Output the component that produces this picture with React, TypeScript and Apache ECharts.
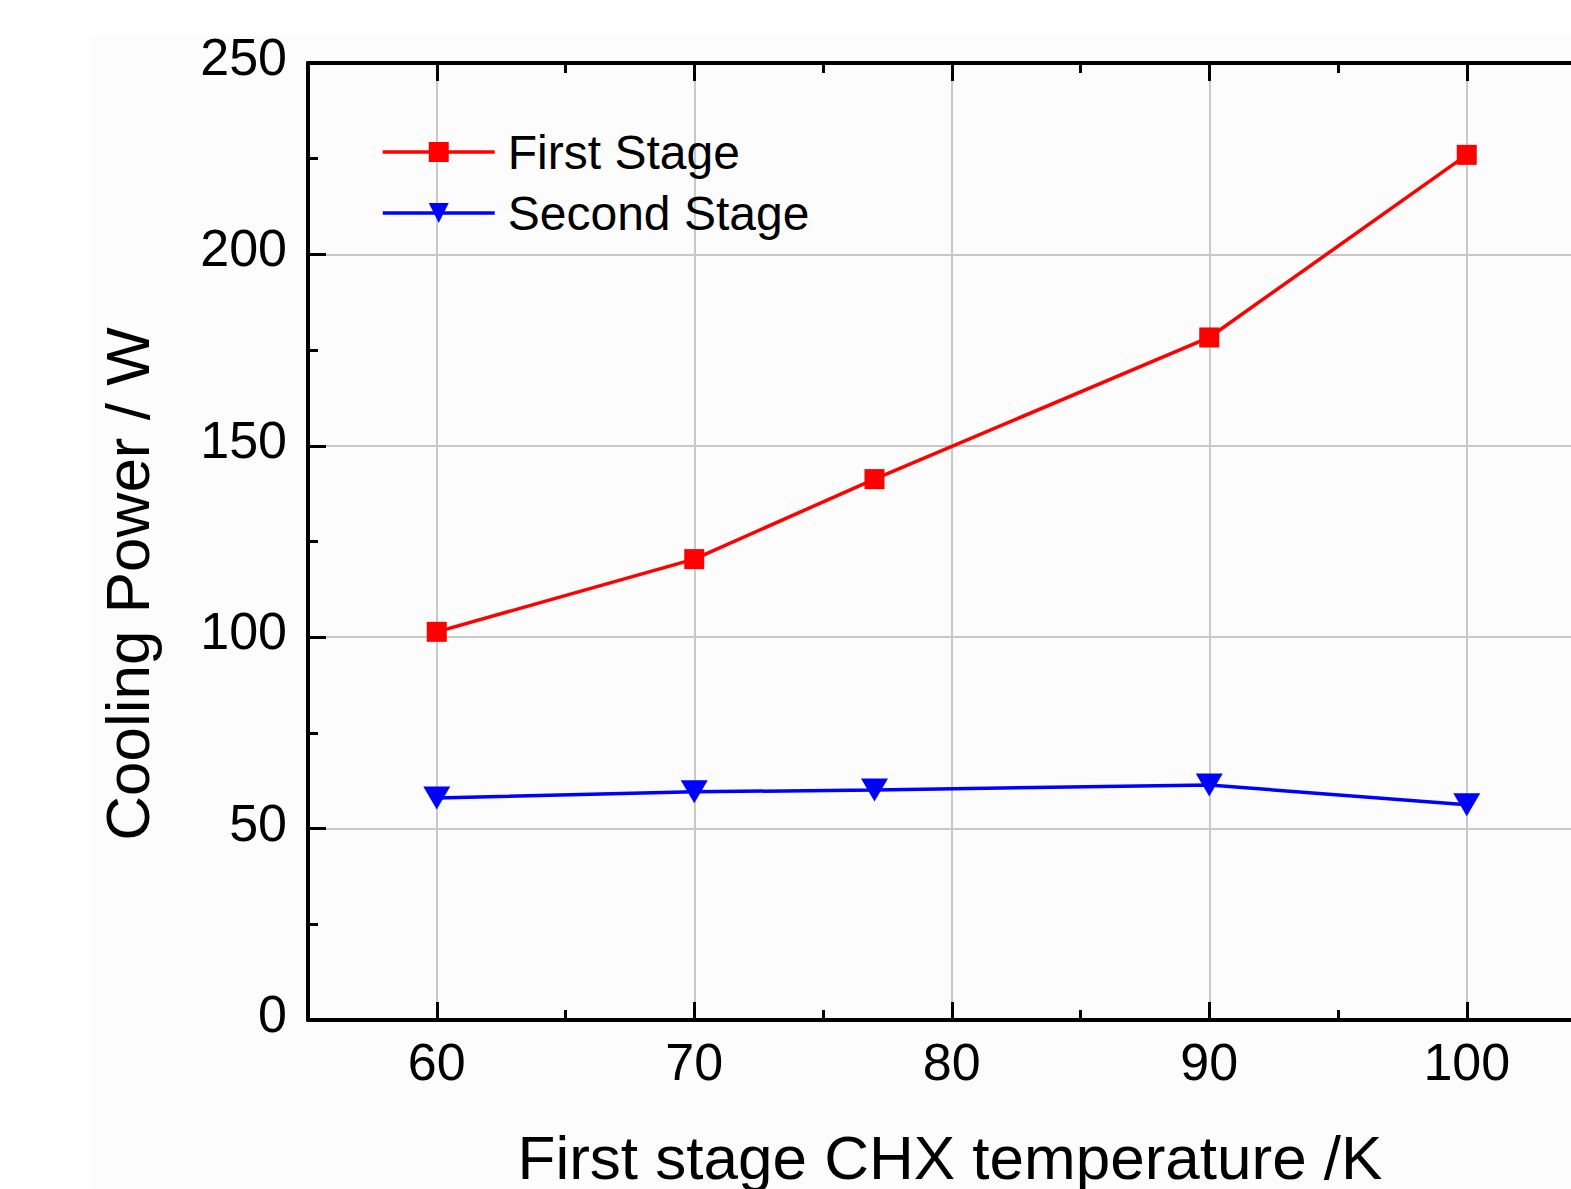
import React, { useEffect, useRef } from 'react';
import * as echarts from 'echarts';

// ---- data ----
const temperatures = [60, 70, 77, 90, 100];
const firstStage = [101.4, 120.4, 141.3, 178.3, 226.0];
const secondStage = [58.0, 59.6, 60.1, 61.4, 56.2];
const seriesNames = ['First Stage', 'Second Stage'];
const xAxisTitle = 'First stage CHX temperature /K';
const yAxisTitle = 'Cooling Power / W';
const xRange = [55, 105];
const yRange = [0, 250];

const FONT = 'Liberation Sans, Arial, Helvetica, sans-serif';

export default function App() {
  const ref = useRef<HTMLDivElement>(null);

  useEffect(() => {
    if (!ref.current) return;
    const chart = echarts.init(ref.current, null, { renderer: 'svg' });

    const axisLineStyle = { color: '#000', width: 4 };
    const tickLineStyle = { color: '#000', width: 3 };

    const option: any = {
      animation: false,
      backgroundColor: '#ffffff',
      graphic: [
        {
          type: 'rect',
          z: -10,
          silent: true,
          shape: { x: 90, y: 35, width: 1600, height: 1200 },
          style: { fill: '#fcfcfc' },
        },
        {
          type: 'text',
          x: 127,
          y: 584,
          rotation: Math.PI / 2,
          style: {
            text: yAxisTitle,
            font: `62px ${FONT}`,
            fill: '#000',
            align: 'center',
            verticalAlign: 'middle',
          },
        },
        {
          type: 'text',
          x: 950,
          y: 1157,
          style: {
            text: xAxisTitle,
            font: `62px ${FONT}`,
            fill: '#000',
            align: 'center',
            verticalAlign: 'middle',
          },
        },
      ],
      grid: { left: 308, top: 63, width: 1287.5, height: 957, containLabel: false },
      legend: {
        orient: 'vertical',
        left: 381,
        top: 128,
        padding: 0,
        itemWidth: 112,
        itemHeight: 25,
        itemGap: 13,
        data: seriesNames,
        lineStyle: { width: 3.5 },
        textStyle: {
          fontSize: 48,
          fontFamily: FONT,
          color: '#000',
          lineHeight: 48,
          padding: [0, 0, 0, 8],
        },
      },
      xAxis: [
        {
          type: 'value',
          position: 'bottom',
          min: xRange[0],
          max: xRange[1],
          splitNumber: 5,
          axisLine: { show: true, lineStyle: axisLineStyle },
          axisTick: { show: true, inside: true, length: 18, lineStyle: tickLineStyle },
          axisLabel: {
            margin: 16,
            fontSize: 52,
            fontFamily: FONT,
            color: '#000',
            formatter: (v: number) => (v % 10 === 0 ? String(v) : ''),
          },
          splitLine: { show: true, lineStyle: { color: '#c8c8c8', width: 2 } },
        },
        {
          type: 'value',
          position: 'bottom',
          min: xRange[0],
          max: xRange[1],
          interval: 5,
          axisLine: { show: false },
          axisTick: { show: true, inside: true, length: 10, lineStyle: tickLineStyle },
          axisLabel: { show: false },
          splitLine: { show: false },
        },
        {
          type: 'value',
          position: 'top',
          min: xRange[0],
          max: xRange[1],
          splitNumber: 5,
          axisLine: { show: true, lineStyle: axisLineStyle },
          axisTick: { show: true, inside: true, length: 18, lineStyle: tickLineStyle },
          axisLabel: { show: false },
          splitLine: { show: false },
        },
        {
          type: 'value',
          position: 'top',
          min: xRange[0],
          max: xRange[1],
          interval: 5,
          axisLine: { show: false },
          axisTick: { show: true, inside: true, length: 10, lineStyle: tickLineStyle },
          axisLabel: { show: false },
          splitLine: { show: false },
        },
      ],
      yAxis: [
        {
          type: 'value',
          position: 'left',
          min: yRange[0],
          max: yRange[1],
          interval: 50,
          axisLine: { show: true, lineStyle: axisLineStyle },
          axisTick: { show: true, inside: true, length: 18, lineStyle: tickLineStyle },
          minorTick: { show: true, splitNumber: 2, length: 10, lineStyle: tickLineStyle },
          axisLabel: {
            margin: 21,
            fontSize: 52,
            fontFamily: FONT,
            color: '#000',
            verticalAlign: 'bottom',
            lineHeight: 12,
          },
          splitLine: { show: true, lineStyle: { color: '#c8c8c8', width: 2 } },
        },
      ],
      series: [
        {
          name: seriesNames[0],
          type: 'line',
          xAxisIndex: 0,
          yAxisIndex: 0,
          data: temperatures.map((t, i) => [t, firstStage[i]]),
          symbol: 'rect',
          symbolSize: 20,
          lineStyle: { color: '#ff0000', width: 3.5 },
          itemStyle: { color: '#ff0000' },
          emphasis: { disabled: true },
          z: 3,
        },
        {
          name: seriesNames[1],
          type: 'line',
          xAxisIndex: 0,
          yAxisIndex: 0,
          data: temperatures.map((t, i) => [t, secondStage[i]]),
          symbol: 'triangle',
          symbolRotate: 180,
          symbolSize: [27, 23],
          lineStyle: { color: '#0000ff', width: 3.5 },
          itemStyle: { color: '#0000ff' },
          emphasis: { disabled: true },
          z: 3,
        },
      ],
    };

    chart.setOption(option);
    return () => chart.dispose();
  }, []);

  return (
    <div
      style={{
        position: 'absolute',
        left: 0,
        top: 0,
        width: 1571,
        height: 1189,
        overflow: 'hidden',
        background: '#fff',
      }}
    >
      <div ref={ref} style={{ width: 1640, height: 1189 }} />
    </div>
  );
}
